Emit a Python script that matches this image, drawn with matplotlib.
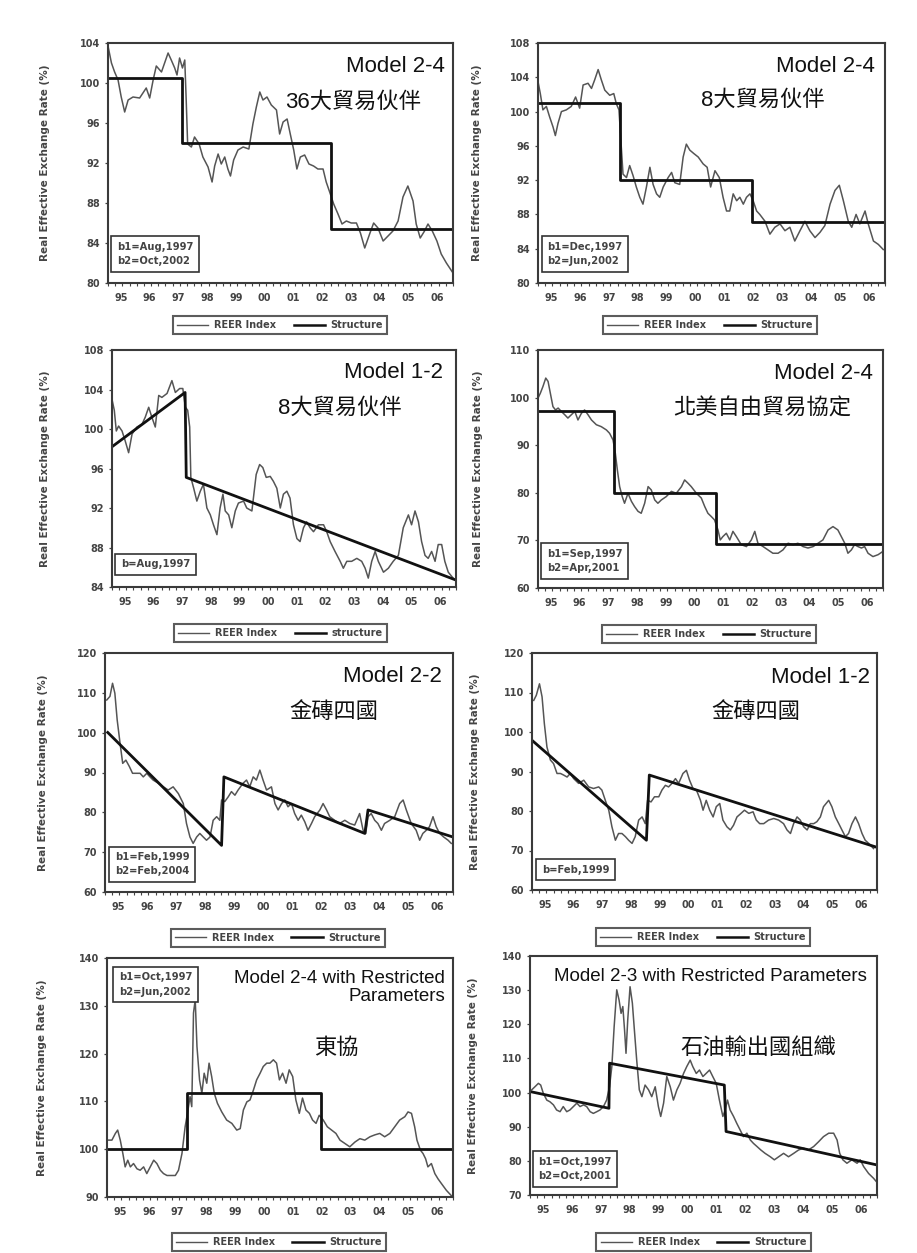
import numpy as np
import matplotlib
matplotlib.use("Agg")
import matplotlib.pyplot as plt
from matplotlib.lines import Line2D

plt.rcParams['font.family'] = ['Liberation Sans', 'Noto Sans CJK TC', 'DejaVu Sans']

# ---- data (decimal year, REER index) ----
# 1: 36 trading partners, Model 2-4
p1_t = [1995.00, 1995.12, 1995.23, 1995.35, 1995.46, 1995.58, 1995.70, 1995.87, 1996.10, 1996.33,
        1996.45, 1996.57, 1996.68, 1996.86, 1997.09, 1997.20, 1997.32, 1997.40, 1997.49, 1997.59,
        1997.67, 1997.72, 1997.77, 1997.90, 1998.01, 1998.17, 1998.30, 1998.48, 1998.62, 1998.71,
        1998.83, 1998.94, 1999.06, 1999.17, 1999.26, 1999.37, 1999.52, 1999.70, 1999.90, 2000.04,
        2000.16, 2000.28, 2000.39, 2000.53, 2000.68, 2000.86, 2000.97, 2001.09, 2001.23, 2001.34,
        2001.46, 2001.57, 2001.69, 2001.84, 2001.99, 2002.15, 2002.30, 2002.48, 2002.59, 2002.71,
        2002.85, 2003.00, 2003.14, 2003.29, 2003.46, 2003.64, 2003.78, 2003.93, 2004.10, 2004.24,
        2004.39, 2004.57, 2004.74, 2004.91, 2005.09, 2005.26, 2005.43, 2005.61, 2005.72, 2005.86,
        2006.01, 2006.13, 2006.28, 2006.44, 2006.59, 2006.77, 2007.00]
p1_v = [103.7, 102.0, 101.1, 100.3, 98.6, 97.1, 98.3, 98.6, 98.5, 99.5,
        98.5, 100.3, 101.7, 101.1, 103.0, 102.3, 101.5, 100.8, 102.5, 101.5,
        102.3, 98.3, 93.9, 93.6, 94.6, 93.9, 92.6, 91.6, 90.1, 91.7,
        92.9, 91.9, 92.6, 91.4, 90.7, 92.3, 93.3, 93.6, 93.4, 95.9,
        97.6, 99.1, 98.3, 98.6, 97.8, 97.3, 94.9, 96.1, 96.4, 94.9,
        93.3, 91.4, 92.6, 92.8, 91.9, 91.7, 91.4, 91.4, 90.1, 89.1,
        87.9, 86.9, 85.9, 86.2, 86.0, 86.0, 85.0, 83.5, 84.9, 86.0,
        85.5, 84.2, 84.7, 85.2, 86.2, 88.6, 89.7, 88.2, 85.9, 84.5,
        85.2, 85.9, 85.2, 84.2, 82.9, 82.0, 81.0]
p1_st_t = [1995.0, 1997.57, 1997.57, 2002.76, 2002.76, 2007.0]
p1_st_v = [100.5, 100.5, 94.0, 94.0, 85.4, 85.4]

# 2: 8 trading partners, Model 2-4
p2_t = [1995.00, 1995.08, 1995.17, 1995.29, 1995.40, 1995.52, 1995.60, 1995.69, 1995.81, 1995.98,
        1996.15, 1996.30, 1996.44, 1996.56, 1996.73, 1996.85, 1996.96, 1997.08, 1997.19, 1997.31,
        1997.48, 1997.62, 1997.71, 1997.80, 1997.88, 1997.94, 1998.06, 1998.17, 1998.29, 1998.40,
        1998.52, 1998.63, 1998.75, 1998.87, 1998.98, 1999.10, 1999.21, 1999.33, 1999.50, 1999.62,
        1999.73, 1999.90, 2000.02, 2000.13, 2000.25, 2000.39, 2000.54, 2000.71, 2000.85, 2000.97,
        2001.12, 2001.27, 2001.40, 2001.52, 2001.63, 2001.75, 2001.87, 2001.98, 2002.10, 2002.21,
        2002.33, 2002.44, 2002.56, 2002.67, 2002.85, 2003.02, 2003.19, 2003.37, 2003.54, 2003.71,
        2003.88, 2004.06, 2004.23, 2004.40, 2004.58, 2004.75, 2004.92, 2005.10, 2005.27, 2005.42,
        2005.56, 2005.73, 2005.85, 2006.00, 2006.13, 2006.31, 2006.42, 2006.60, 2006.77, 2006.94]
p2_v = [103.5, 102.1, 100.2, 100.6, 99.4, 98.2, 97.2, 98.6, 100.0, 100.2,
        100.6, 101.7, 100.4, 103.1, 103.3, 102.7, 103.7, 104.9, 103.7, 102.5,
        101.9, 102.1, 100.9, 100.2, 95.9, 92.7, 92.3, 93.7, 92.5, 91.2,
        90.0, 89.2, 91.2, 93.5, 91.5, 90.4, 90.0, 91.2, 92.3, 92.9,
        91.7, 91.5, 94.7, 96.2, 95.5, 95.1, 94.7, 93.9, 93.5, 91.2,
        93.1, 92.3, 90.0, 88.4, 88.4, 90.4, 89.6, 90.0, 89.2, 90.0,
        90.4, 89.6, 88.4, 88.0, 87.2, 85.7, 86.5, 86.9, 86.1, 86.5,
        84.9, 86.1, 87.2, 86.1, 85.3, 85.9, 86.7, 89.2, 90.8, 91.4,
        89.6, 87.2, 86.5, 88.0, 86.9, 88.4, 86.9, 84.9, 84.5, 83.9]
p2_st_t = [1995.0, 1997.85, 1997.85, 2002.40, 2002.40, 2007.0]
p2_st_v = [101.0, 101.0, 92.0, 92.0, 87.1, 87.1]

# 3: 8 trading partners, Model 1-2
p3_t = [1995.00, 1995.08, 1995.15, 1995.23, 1995.35, 1995.46, 1995.58, 1995.70, 1995.87, 1996.05,
        1996.16, 1996.28, 1996.39, 1996.51, 1996.63, 1996.74, 1996.92, 1997.09, 1997.21, 1997.36,
        1997.47, 1997.56, 1997.64, 1997.71, 1997.75, 1997.85, 1997.96, 1998.08, 1998.19, 1998.31,
        1998.43, 1998.54, 1998.66, 1998.77, 1998.87, 1998.95, 1999.07, 1999.18, 1999.30, 1999.41,
        1999.59, 1999.70, 1999.88, 2000.03, 2000.15, 2000.26, 2000.38, 2000.52, 2000.63, 2000.75,
        2000.87, 2000.98, 2001.10, 2001.21, 2001.33, 2001.45, 2001.56, 2001.68, 2001.79, 2001.91,
        2002.03, 2002.20, 2002.38, 2002.49, 2002.61, 2002.78, 2002.96, 2003.07, 2003.19, 2003.36,
        2003.54, 2003.71, 2003.83, 2003.94, 2004.06, 2004.18, 2004.29, 2004.47, 2004.64, 2004.81,
        2004.99, 2005.16, 2005.34, 2005.45, 2005.57, 2005.69, 2005.80, 2005.92, 2006.03, 2006.15,
        2006.27, 2006.38, 2006.50, 2006.61, 2006.73, 2006.90]
p3_v = [103.0, 101.9, 99.8, 100.3, 99.8, 98.8, 97.6, 99.5, 100.2, 100.5,
        101.2, 102.2, 101.2, 100.2, 103.4, 103.2, 103.6, 104.9, 103.7, 104.1,
        104.1, 102.2, 101.9, 100.2, 95.1, 94.0, 92.7, 93.7, 94.4, 92.0,
        91.3, 90.3, 89.3, 92.0, 93.4, 91.7, 91.3, 90.0, 91.7, 92.5,
        92.7, 92.0, 91.7, 95.4, 96.4, 96.1, 95.1, 95.2, 94.7, 94.0,
        92.0, 93.4, 93.7, 93.0, 90.3, 88.9, 88.6, 90.0, 90.6, 90.0,
        89.6, 90.3, 90.3, 89.6, 88.6, 87.6, 86.6, 85.9, 86.6, 86.6,
        86.9, 86.6, 85.9, 84.9, 86.6, 87.6, 86.6, 85.5, 85.9, 86.6,
        87.2, 90.0, 91.3, 90.3, 91.7, 90.6, 88.6, 87.2, 86.9, 87.6,
        86.6, 88.3, 88.3, 86.6, 85.5, 84.9]
p3_st_t = [1995.0, 1997.55, 1997.59, 2007.0]
p3_st_v = [98.2, 103.7, 95.1, 84.7]

# 4: NAFTA, Model 2-4
p4_t = [1995.00, 1995.08, 1995.17, 1995.27, 1995.35, 1995.43, 1995.52, 1995.61, 1995.70, 1995.81,
        1995.93, 1996.04, 1996.16, 1996.28, 1996.39, 1996.51, 1996.62, 1996.74, 1996.86, 1997.03,
        1997.20, 1997.38, 1997.49, 1997.61, 1997.69, 1997.76, 1997.84, 1997.93, 1998.01, 1998.13,
        1998.25, 1998.36, 1998.48, 1998.59, 1998.71, 1998.83, 1998.94, 1999.06, 1999.17, 1999.29,
        1999.46, 1999.64, 1999.81, 1999.99, 2000.10, 2000.22, 2000.33, 2000.51, 2000.68, 2000.80,
        2000.91, 2001.03, 2001.14, 2001.26, 2001.34, 2001.43, 2001.55, 2001.67, 2001.78, 2001.90,
        2002.07, 2002.25, 2002.42, 2002.54, 2002.65, 2002.83, 2003.00, 2003.17, 2003.35, 2003.52,
        2003.70, 2003.87, 2004.04, 2004.22, 2004.39, 2004.57, 2004.74, 2004.91, 2005.09, 2005.26,
        2005.43, 2005.55, 2005.67, 2005.78, 2005.90, 2006.01, 2006.13, 2006.25, 2006.36, 2006.48,
        2006.65, 2006.83, 2007.00]
p4_v = [99.9, 100.9, 102.3, 104.1, 103.4, 100.9, 98.1, 97.4, 97.8, 97.1,
        96.4, 95.7, 96.4, 97.1, 95.3, 96.7, 97.4, 96.4, 95.3, 94.3,
        93.9, 93.2, 92.5, 91.1, 88.3, 84.8, 81.3, 79.2, 77.8, 79.9,
        78.2, 77.1, 76.1, 75.7, 77.8, 81.3, 80.6, 78.5, 77.8, 78.5,
        79.2, 80.3, 79.9, 81.3, 82.7, 82.0, 81.3, 79.9, 78.9, 77.1,
        75.7, 75.0, 74.3, 72.2, 70.1, 70.8, 71.5, 70.1, 71.9, 70.8,
        69.1, 68.7, 70.1, 71.9, 69.4, 68.7, 68.0, 67.3, 67.3, 68.0,
        69.4, 69.1, 69.4, 68.7, 68.4, 68.7, 69.4, 70.1, 72.2, 72.9,
        72.2, 70.8, 69.4, 67.3, 68.0, 69.1, 68.7, 68.4, 68.7, 67.3,
        66.6, 67.0, 67.7]
p4_st_t = [1995.0, 1997.63, 1997.63, 2001.20, 2001.20, 2007.0]
p4_st_v = [97.1, 97.1, 79.9, 79.9, 69.2, 69.2]

# 5: BRIC, Model 2-2
p5_t = [1995.06, 1995.17, 1995.26, 1995.34, 1995.42, 1995.52, 1995.61, 1995.72, 1995.84, 1995.95,
        1996.09, 1996.21, 1996.32, 1996.44, 1996.55, 1996.66, 1996.84, 1997.01, 1997.18, 1997.35,
        1997.53, 1997.70, 1997.81, 1997.93, 1998.04, 1998.16, 1998.27, 1998.39, 1998.50, 1998.62,
        1998.73, 1998.85, 1998.96, 1999.02, 1999.13, 1999.25, 1999.36, 1999.48, 1999.59, 1999.76,
        1999.88, 1999.99, 2000.11, 2000.22, 2000.34, 2000.45, 2000.57, 2000.74, 2000.86, 2000.97,
        2001.09, 2001.20, 2001.31, 2001.43, 2001.54, 2001.66, 2001.77, 2001.89, 2002.00, 2002.12,
        2002.23, 2002.41, 2002.52, 2002.64, 2002.75, 2002.92, 2003.09, 2003.27, 2003.44, 2003.61,
        2003.78, 2003.90, 2003.99, 2004.07, 2004.18, 2004.30, 2004.41, 2004.53, 2004.64, 2004.82,
        2004.99, 2005.16, 2005.28, 2005.39, 2005.56, 2005.73, 2005.85, 2005.96, 2006.08, 2006.19,
        2006.31, 2006.42, 2006.54, 2006.68, 2006.83, 2006.94]
p5_v = [108.2, 109.1, 112.4, 109.9, 103.2, 97.3, 92.3, 93.1, 91.5, 89.8,
        89.8, 89.8, 88.9, 89.8, 88.9, 88.1, 87.3, 86.4, 85.6, 86.4,
        84.7, 82.2, 77.2, 73.8, 72.2, 73.8, 74.7, 73.8, 73.0, 73.8,
        78.0, 78.9, 78.0, 83.1, 82.7, 83.9, 85.2, 84.3, 85.6, 87.3,
        88.1, 86.4, 88.9, 88.1, 90.6, 88.1, 85.6, 86.4, 82.2, 80.6,
        82.2, 83.1, 81.4, 82.2, 79.7, 78.0, 79.3, 77.6, 75.5, 77.2,
        78.9, 80.6, 82.2, 80.6, 78.9, 78.0, 77.2, 78.0, 77.2, 76.8,
        79.7, 75.5, 74.7, 78.9, 79.7, 78.0, 77.2, 75.5, 77.2, 78.0,
        78.9, 82.2, 83.1, 80.6, 77.2, 75.5, 73.0, 74.7, 75.5, 76.4,
        78.9, 76.4, 74.7, 73.8, 73.0, 72.2]
p5_st_t = [1995.06, 1999.02, 1999.10, 2003.96, 2004.07, 2007.0]
p5_st_v = [100.3, 71.7, 88.9, 74.7, 80.6, 73.8]

# 6: BRIC, Model 1-2
p6_t = [1995.06, 1995.15, 1995.26, 1995.35, 1995.43, 1995.52, 1995.64, 1995.75, 1995.87, 1995.99,
        1996.10, 1996.22, 1996.33, 1996.45, 1996.62, 1996.80, 1996.97, 1997.14, 1997.32, 1997.43,
        1997.55, 1997.67, 1997.78, 1997.90, 1998.01, 1998.13, 1998.25, 1998.36, 1998.48, 1998.59,
        1998.71, 1998.83, 1998.94, 1999.02, 1999.14, 1999.26, 1999.41, 1999.52, 1999.64, 1999.75,
        1999.87, 1999.99, 2000.10, 2000.25, 2000.37, 2000.48, 2000.60, 2000.72, 2000.86, 2000.95,
        2001.06, 2001.18, 2001.30, 2001.41, 2001.53, 2001.64, 2001.78, 2001.90, 2002.01, 2002.13,
        2002.27, 2002.39, 2002.54, 2002.69, 2002.80, 2002.92, 2003.06, 2003.23, 2003.41, 2003.58,
        2003.75, 2003.87, 2003.99, 2004.10, 2004.22, 2004.33, 2004.45, 2004.57, 2004.68, 2004.80,
        2004.91, 2005.03, 2005.14, 2005.32, 2005.43, 2005.55, 2005.67, 2005.78, 2005.90, 2006.01,
        2006.13, 2006.25, 2006.36, 2006.48, 2006.59, 2006.71, 2006.88]
p6_v = [108.0, 109.3, 112.2, 108.9, 102.1, 96.2, 92.9, 92.0, 89.5, 89.5,
        89.1, 88.6, 89.5, 88.2, 87.0, 87.8, 86.1, 85.7, 86.1, 85.3,
        82.7, 80.2, 76.0, 72.6, 74.3, 74.3, 73.5, 72.6, 71.8, 73.5,
        77.7, 78.5, 76.8, 82.7, 82.3, 83.6, 83.6, 85.3, 86.5, 86.1,
        87.0, 88.2, 87.0, 89.5, 90.3, 87.8, 85.7, 85.3, 82.7, 80.2,
        82.7, 80.2, 78.5, 81.1, 81.9, 77.7, 76.0, 75.2, 76.4, 78.5,
        79.4, 80.2, 79.4, 79.8, 77.7, 76.8, 76.8, 77.7, 78.1, 77.7,
        76.8, 75.2, 74.3, 76.8, 78.5, 77.7, 76.0, 75.2, 76.8, 76.8,
        77.3, 78.5, 81.1, 82.7, 81.1, 78.5, 76.8, 75.2, 73.5, 74.3,
        76.8, 78.5, 76.8, 74.3, 72.6, 71.8, 70.5]
p6_st_t = [1995.0, 1998.98, 1999.08, 2007.0]
p6_st_v = [97.9, 72.6, 89.1, 70.8]

# 7: ASEAN, Model 2-4 with restricted parameters
p7_t = [1995.06, 1995.17, 1995.29, 1995.37, 1995.46, 1995.55, 1995.63, 1995.72, 1995.81, 1995.92,
        1996.04, 1996.15, 1996.27, 1996.38, 1996.50, 1996.62, 1996.73, 1996.85, 1996.96, 1997.08,
        1997.25, 1997.37, 1997.48, 1997.60, 1997.71, 1997.79, 1997.88, 1997.94, 1998.00, 1998.06,
        1998.12, 1998.21, 1998.29, 1998.37, 1998.46, 1998.54, 1998.63, 1998.72, 1998.83, 1998.98,
        1999.15, 1999.33, 1999.50, 1999.62, 1999.73, 1999.85, 1999.96, 2000.08, 2000.19, 2000.31,
        2000.42, 2000.54, 2000.65, 2000.77, 2000.88, 2000.98, 2001.09, 2001.21, 2001.32, 2001.44,
        2001.55, 2001.67, 2001.78, 2001.90, 2002.02, 2002.13, 2002.25, 2002.36, 2002.50, 2002.64,
        2002.79, 2002.94, 2003.08, 2003.25, 2003.42, 2003.60, 2003.77, 2003.94, 2004.12, 2004.29,
        2004.46, 2004.63, 2004.81, 2004.98, 2005.15, 2005.33, 2005.44, 2005.56, 2005.67, 2005.75,
        2005.87, 2005.96, 2006.05, 2006.13, 2006.25, 2006.37, 2006.48, 2006.60, 2006.77, 2006.94]
p7_v = [101.9, 101.9, 103.3, 104.0, 101.9, 99.1, 96.3, 97.7, 96.3, 97.0,
        95.9, 95.6, 96.3, 94.9, 96.3, 97.7, 97.0, 95.6, 94.9, 94.5,
        94.5, 94.5, 95.6, 99.1, 104.7, 107.5, 111.0, 108.9, 128.5, 131.3,
        121.5, 114.5, 111.7, 115.9, 113.8, 118.0, 115.2, 111.7, 109.6, 107.8,
        106.1, 105.4, 104.0, 104.3, 108.2, 109.9, 110.3, 112.4, 114.5, 115.9,
        117.3, 118.0, 118.0, 118.7, 118.0, 114.5, 115.9, 113.8, 116.6, 115.2,
        110.3, 107.5, 110.7, 108.2, 107.5, 106.1, 105.4, 107.1, 106.1, 104.7,
        104.0, 103.3, 101.9, 101.2, 100.5, 101.5, 102.2, 101.9, 102.6, 103.0,
        103.3, 102.6, 103.3, 104.7, 106.1, 106.8, 107.8, 107.5, 104.7, 101.9,
        99.8, 99.1, 98.0, 96.3, 97.0, 94.9, 93.8, 92.8, 91.4, 90.3]
p7_st_t = [1995.0, 1997.77, 1997.77, 2002.43, 2002.43, 2007.0]
p7_st_v = [100.0, 100.0, 111.8, 111.8, 100.0, 100.0]

# 8: OPEC, Model 2-3 with restricted parameters
p8_t = [1995.06, 1995.17, 1995.29, 1995.37, 1995.46, 1995.58, 1995.69, 1995.81, 1995.92, 1996.04,
        1996.15, 1996.27, 1996.38, 1996.50, 1996.62, 1996.73, 1996.85, 1996.96, 1997.08, 1997.19,
        1997.31, 1997.42, 1997.54, 1997.65, 1997.75, 1997.83, 1997.91, 1998.00, 1998.08, 1998.15,
        1998.21, 1998.27, 1998.32, 1998.38, 1998.46, 1998.54, 1998.61, 1998.69, 1998.78, 1998.87,
        1998.98, 1999.10, 1999.21, 1999.33, 1999.44, 1999.52, 1999.62, 1999.73, 1999.85, 1999.96,
        2000.08, 2000.19, 2000.31, 2000.42, 2000.54, 2000.63, 2000.75, 2000.86, 2000.98, 2001.09,
        2001.21, 2001.32, 2001.44, 2001.55, 2001.67, 2001.75, 2001.83, 2001.92, 2002.04, 2002.15,
        2002.27, 2002.38, 2002.50, 2002.62, 2002.73, 2002.85, 2002.98, 2003.13, 2003.31, 2003.45,
        2003.60, 2003.77, 2003.94, 2004.12, 2004.29, 2004.46, 2004.63, 2004.81, 2004.98, 2005.15,
        2005.33, 2005.50, 2005.62, 2005.71, 2005.82, 2005.96, 2006.13, 2006.31, 2006.42, 2006.54,
        2006.71, 2006.88, 2006.98]
p8_v = [100.8, 101.7, 102.7, 102.2, 99.8, 97.8, 97.3, 96.4, 94.9, 94.4,
        95.9, 94.4, 94.9, 95.9, 96.9, 95.9, 96.4, 95.9, 94.4, 93.9,
        94.4, 94.9, 95.9, 97.8, 101.7, 107.6, 119.3, 130.1, 127.1, 123.2,
        125.2, 118.3, 111.5, 121.3, 131.0, 126.2, 118.3, 109.5, 100.8, 98.8,
        102.2, 100.8, 98.8, 101.7, 95.9, 93.0, 96.9, 104.7, 101.7, 97.8,
        100.8, 102.7, 105.6, 107.6, 109.5, 107.6, 105.6, 106.6, 104.7, 105.6,
        106.6, 104.7, 102.7, 97.8, 93.0, 94.9, 97.8, 94.9, 93.0, 91.0,
        89.0, 87.1, 88.1, 86.1, 85.1, 84.2, 83.2, 82.2, 81.2, 80.3,
        81.2, 82.2, 81.2, 82.2, 83.2, 83.7, 83.2, 84.2, 85.6, 87.1,
        88.1, 88.1, 86.1, 82.2, 80.3, 79.3, 80.3, 79.3, 80.3, 78.3,
        76.3, 74.9, 73.9]
p8_st_t = [1995.0, 1997.73, 1997.75, 2001.72, 2001.78, 2007.0]
p8_st_v = [100.3, 95.4, 108.6, 102.2, 88.6, 78.8]

year_labels = ['95', '96', '97', '98', '99', '00', '01', '02', '03', '04', '05', '06']

# ---- layout (pixel boxes of the frames in a 917x1253 canvas) ----
W, H = 917, 1253
panels = [
    dict(t=p1_t, v=p1_v, st_t=p1_st_t, st_v=p1_st_v, box=(108, 43, 453, 283), ylim=(80, 104), step=4,
         model='Model 2-4', model_xy=(0.977, 0.904), cn='36大貿易伙伴', cn_xy=(0.71, 0.754),
         note='b1=Aug,1997\nb2=Oct,2002', note_xy=(0.012, 0.035), note_va='bottom',
         leg_xy=(0.499, -0.175), ylab=50, struct='Structure', mfs=16),
    dict(t=p2_t, v=p2_v, st_t=p2_st_t, st_v=p2_st_v, box=(538, 43, 885, 283), ylim=(80, 108), step=4,
         model='Model 2-4', model_xy=(0.971, 0.904), cn='8大貿易伙伴', cn_xy=(0.647, 0.762),
         note='b1=Dec,1997\nb2=Jun,2002', note_xy=(0.012, 0.035), note_va='bottom',
         leg_xy=(0.496, -0.175), ylab=482, struct='Structure', mfs=16),
    dict(t=p3_t, v=p3_v, st_t=p3_st_t, st_v=p3_st_v, box=(112, 350, 456, 587), ylim=(84, 108), step=4,
         model='Model 1-2', model_xy=(0.962, 0.903), cn='8大貿易伙伴', cn_xy=(0.663, 0.755),
         note='b=Aug,1997', note_xy=(0.012, 0.04), note_va='bottom',
         leg_xy=(0.49, -0.194), ylab=50, struct='structure', mfs=16),
    dict(t=p4_t, v=p4_v, st_t=p4_st_t, st_v=p4_st_v, box=(538, 350, 883, 588), ylim=(60, 110), step=10,
         model='Model 2-4', model_xy=(0.971, 0.903), cn='北美自由貿易協定', cn_xy=(0.651, 0.752),
         note='b1=Sep,1997\nb2=Apr,2001', note_xy=(0.012, 0.028), note_va='bottom',
         leg_xy=(0.496, -0.193), ylab=483, struct='Structure', mfs=16),
    dict(t=p5_t, v=p5_v, st_t=p5_st_t, st_v=p5_st_v, box=(105, 653, 453, 892), ylim=(60, 120), step=10,
         model='Model 2-2', model_xy=(0.968, 0.90), cn='金磚四國', cn_xy=(0.658, 0.749),
         note='b1=Feb,1999\nb2=Feb,2004', note_xy=(0.014, 0.03), note_va='bottom',
         leg_xy=(0.497, -0.192), ylab=48, struct='Structure', mfs=16),
    dict(t=p6_t, v=p6_v, st_t=p6_st_t, st_v=p6_st_v, box=(532, 653, 877, 890), ylim=(60, 120), step=10,
         model='Model 1-2', model_xy=(0.98, 0.895), cn='金磚四國', cn_xy=(0.649, 0.747),
         note='b=Feb,1999', note_xy=(0.014, 0.03), note_va='bottom',
         leg_xy=(0.496, -0.198), ylab=480, struct='Structure', mfs=16),
    dict(t=p7_t, v=p7_v, st_t=p7_st_t, st_v=p7_st_v, box=(107, 958, 453, 1197), ylim=(90, 140), step=10,
         model='Model 2-4 with Restricted\nParameters', model_xy=(0.977, 0.878), cn='東協', cn_xy=(0.662, 0.623),
         note='b1=Oct,1997\nb2=Jun,2002', note_xy=(0.02, 0.975), note_va='top',
         leg_xy=(0.497, -0.188), ylab=47, struct='Structure', mfs=13.5),
    dict(t=p8_t, v=p8_v, st_t=p8_st_t, st_v=p8_st_v, box=(530, 956, 877, 1195), ylim=(70, 140), step=10,
         model='Model 2-3 with Restricted Parameters', model_xy=(0.971, 0.916), cn='石油輸出國組織', cn_xy=(0.657, 0.615),
         note='b1=Oct,1997\nb2=Oct,2001', note_xy=(0.01, 0.022), note_va='bottom',
         leg_xy=(0.50, -0.197), ylab=478, struct='Structure', mfs=13.5),
]

SMALL = dict(family='DejaVu Sans', weight='bold', size=7)
GREY = '#555555'

fig = plt.figure(figsize=(W / 100, H / 100), dpi=100)

for p in panels:
    x0, y0, x1, y1 = p['box']
    ax = fig.add_axes([x0 / W, (H - y1) / H, (x1 - x0) / W, (y1 - y0) / H])
    ax.plot(p['t'], p['v'], color=GREY, lw=1.1)
    ax.plot(p['st_t'], p['st_v'], color='#111111', lw=2.0, solid_capstyle='butt')

    ax.set_xlim(1995, 2007)
    ax.set_ylim(*p['ylim'])
    ax.set_yticks(np.arange(p['ylim'][0], p['ylim'][1] + 0.1, p['step']))
    ax.set_xticks(np.arange(1995, 2007) + 0.45)
    ax.set_xticklabels(year_labels)
    ax.set_xticks(np.arange(1995, 2007.01, 0.25), minor=True)
    ax.tick_params(axis='x', which='major', length=0, pad=7, labelsize=7, labelcolor='#444')
    ax.tick_params(axis='x', which='minor', length=2.5, width=0.8, direction='out', color='#444')
    ax.tick_params(axis='y', length=2.5, width=0.9, pad=3, labelsize=7, labelcolor='#444', color='#444')
    for lab in ax.get_xticklabels() + ax.get_yticklabels():
        lab.set_fontfamily('DejaVu Sans')
        lab.set_fontweight('bold')
    for s in ax.spines.values():
        s.set_linewidth(1.5)
        s.set_color('#3a3a3a')

    ax.set_ylabel('Real Effective Exchange Rate (%)', fontdict=dict(SMALL, size=7.5), color='#444')
    ax.yaxis.set_label_coords((p['ylab'] - x0) / (x1 - x0), 0.5)

    ax.text(*p['model_xy'], p['model'], transform=ax.transAxes, ha='right', va='center',
            fontsize=p['mfs'], color='#111', linespacing=1.1, multialignment='right')
    ax.text(*p['cn_xy'], p['cn'], transform=ax.transAxes, ha='center', va='center',
            fontsize=16, color='#111')
    ax.text(p['note_xy'][0] + 0.014, p['note_xy'][1] + (0.035 if p['note_va'] == 'bottom' else -0.035),
            p['note'], transform=ax.transAxes, ha='left', va=p['note_va'],
            fontdict=dict(SMALL, size=7.2), color='#444', linespacing=1.55,
            bbox=dict(boxstyle='square,pad=0.55', fc='white', ec='#333', lw=1.2))

    handles = [Line2D([], [], color=GREY, lw=1.0), Line2D([], [], color='#111', lw=1.8)]
    leg = ax.legend(handles, ['REER Index', p['struct']], loc='center', bbox_to_anchor=p['leg_xy'],
                    ncol=2, frameon=True, fancybox=False, edgecolor='#333', handlelength=3.2,
                    columnspacing=1.8, handletextpad=0.6, borderpad=0.45,
                    prop=dict(SMALL, size=7))
    leg.get_frame().set_linewidth(1.5)
    for txt in leg.get_texts():
        txt.set_color('#444')

fig.savefig('out.png', dpi=100, facecolor='white')
